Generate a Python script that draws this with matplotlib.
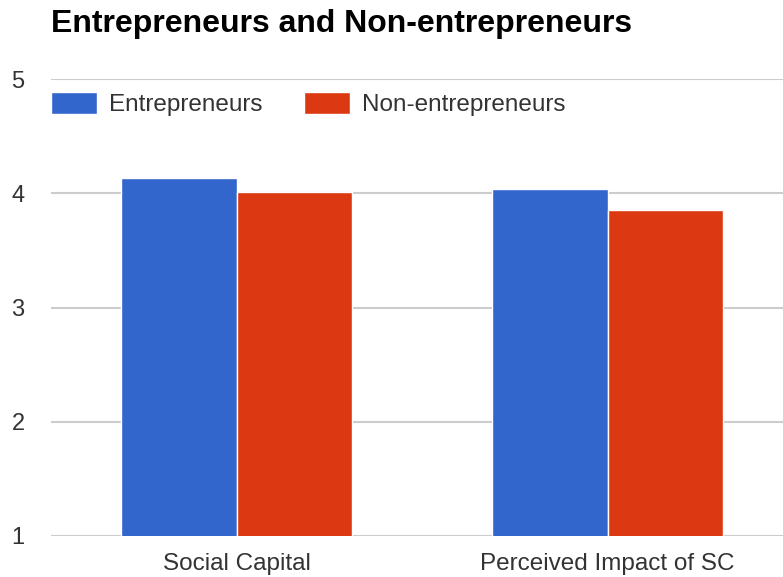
import matplotlib
matplotlib.use('Agg')
import matplotlib.pyplot as plt
import numpy as np

categories = ['Social Capital', 'Perceived Impact of SC']
entrepreneurs = [4.13, 4.04]
non_entrepreneurs = [4.01, 3.85]
series_names = ['Entrepreneurs', 'Non-entrepreneurs']
yticks = [1, 2, 3, 4, 5]

blue = '#3366cc'
red = '#dc3912'
plt.rcParams['font.family'] = ['Liberation Sans', 'DejaVu Sans']

fig = plt.figure(figsize=(7.83, 5.77), dpi=100)
ax = fig.add_axes([51/783, 41/577, 742/783, 457/577])

x = np.arange(len(categories))
w = 0.31
ax.bar(x - w/2, entrepreneurs, w, color=blue, edgecolor='white',
       linewidth=1, label=series_names[0], zorder=3)
ax.bar(x + w/2, non_entrepreneurs, w, color=red, edgecolor='white',
       linewidth=1, label=series_names[1], zorder=3)

ax.set_xlim(-0.5, 1.5)
ax.set_ylim(1, 5)
ax.set_yticks(yticks)
ax.set_xticks(x)
ax.set_xticklabels(categories)
ax.tick_params(axis='y', length=0, pad=19, labelsize=17, labelcolor='#333333')
ax.tick_params(axis='x', length=0, pad=12.5, labelsize=17.5, labelcolor='#333333')
for s in ax.spines.values():
    s.set_visible(False)
ax.grid(axis='y', color='#cccccc', linewidth=1.5, zorder=0)

leg = ax.legend(loc='upper left', bbox_to_anchor=(51/783, 1 - 92/577),
                bbox_transform=fig.transFigure, ncol=2, frameon=False,
                fontsize=17.5, handlelength=1.9, handleheight=1.0,
                handletextpad=0.5, columnspacing=1.7, borderaxespad=0,
                borderpad=0)
for t in leg.get_texts():
    t.set_color('#333333')

fig.text(51/783, 1 - 24/577, 'Entrepreneurs and Non-entrepreneurs',
         fontsize=23, fontweight='bold', va='center', ha='left')

fig.savefig('out.png', dpi=100)
